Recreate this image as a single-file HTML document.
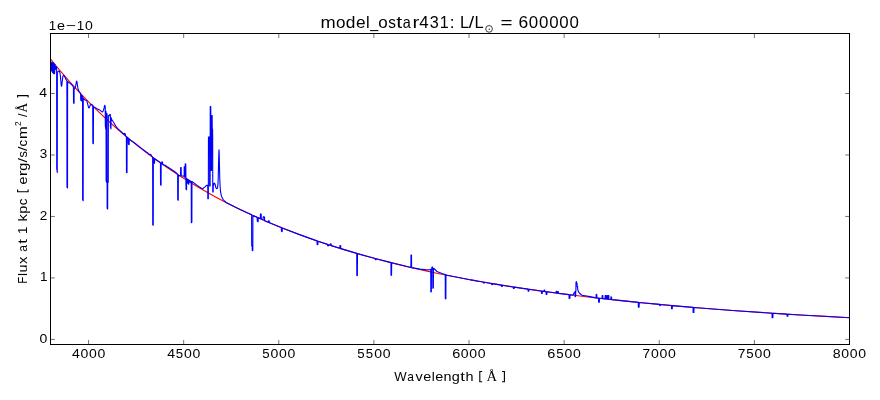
<!DOCTYPE html>
<html><head><meta charset="utf-8"><style>html,body{margin:0;padding:0;background:#fff;overflow:hidden}svg{display:block;will-change:transform}</style></head>
<body>
<svg width="880" height="400" viewBox="0 0 880 400" font-family="'Liberation Sans', sans-serif">
<rect width="880" height="400" fill="#fff"/>
<defs><clipPath id="c"><rect x="50.5" y="33.5" width="799" height="311"/></clipPath></defs>
<g clip-path="url(#c)" fill="none" stroke-linejoin="round" stroke-linecap="butt">
<path d="M50.00 58.40 L56.00 65.76 L60.00 70.53 L64.00 75.20 L70.00 82.02 L74.00 86.45 L78.00 90.79 L84.00 97.12 L92.00 105.27 L100.00 113.07 L108.00 120.57 L114.00 125.99 L122.00 132.96 L130.00 139.65 L138.00 146.09 L146.00 152.26 L154.00 158.20 L162.00 163.91 L166.00 166.68 L172.00 170.73 L180.00 175.96 L184.00 178.50 L190.00 182.22 L198.00 187.01 L208.00 192.75 L216.00 197.15 L226.00 202.43 L236.00 207.46 L246.00 212.27 L256.00 216.87 L266.00 221.26 L276.00 225.46 L286.00 229.47 L296.00 233.32 L308.00 237.71 L318.00 241.20 L330.00 245.20 L340.00 248.37 L352.00 252.01 L364.00 255.47 L376.00 258.77 L388.00 261.90 L400.00 264.88 L412.00 267.73 L426.00 270.88 L438.00 273.44 L452.00 276.28 L466.00 278.97 L480.00 281.50 L494.00 283.89 L508.00 286.15 L522.00 288.28 L538.00 290.59 L554.00 292.75 L570.00 294.80 L588.00 296.96 L606.00 299.00 L624.00 300.92 L644.00 302.94 L662.00 304.65 L682.00 306.45 L700.00 307.96 L720.00 309.54 L740.00 311.02 L762.00 312.54 L782.00 313.84 L804.00 315.18 L826.00 316.42 L850.00 317.70" stroke="#ff0000" stroke-width="1.11"/>
<path d="M50.00 64.00 L50.50 64.25 L50.60 61.85 L51.20 62.20 L51.35 64.77 L51.44 70.80 L51.80 71.08 L51.89 68.37 L51.96 68.43 L52.05 62.52 L52.25 62.68 L52.34 69.53 L52.41 69.59 L52.50 72.42 L52.75 72.61 L52.95 62.69 L53.25 62.91 L53.45 73.39 L53.70 73.57 L53.79 70.44 L53.86 70.50 L53.95 63.53 L54.15 63.67 L54.24 70.11 L54.31 70.16 L54.40 73.43 L54.60 73.57 L54.69 70.68 L54.76 70.73 L54.85 64.43 L55.00 64.54 L55.08 66.91 L55.21 66.68 L55.30 69.50 L55.52 69.12 L55.60 66.50 L56.00 66.57 L56.50 66.93 L56.64 67.28 L56.73 168.74 L57.27 172.46 L57.36 72.23 L57.50 72.34 L58.00 71.53 L58.50 71.13 L59.00 71.02 L59.40 71.34 L59.68 71.78 L60.00 73.04 L60.38 75.97 L61.08 83.86 L61.36 85.94 L61.50 86.30 L61.64 86.16 L61.92 84.52 L62.76 77.05 L63.04 75.90 L63.32 75.44 L63.60 75.39 L64.00 75.62 L65.00 77.30 L66.00 79.62 L66.89 80.65 L66.98 187.19 L67.52 187.81 L67.61 81.49 L68.50 82.45 L70.00 83.20 L72.50 85.50 L73.00 86.57 L73.44 87.24 L73.53 102.83 L74.07 103.36 L74.16 87.95 L74.50 88.24 L74.74 88.20 L75.02 87.97 L75.30 87.39 L75.72 85.66 L76.42 81.57 L76.56 81.18 L76.70 81.10 L77.00 81.99 L77.82 87.78 L78.24 89.82 L78.80 91.11 L80.00 92.60 L80.60 93.50 L80.72 99.94 L81.47 101.06 L81.60 95.00 L82.54 96.69 L82.63 199.82 L83.17 200.78 L83.26 97.98 L84.00 99.30 L85.00 100.00 L86.50 100.51 L86.86 100.92 L88.39 106.86 L88.73 107.80 L88.90 108.00 L89.07 107.99 L89.24 107.79 L90.26 104.99 L90.50 104.59 L90.77 104.35 L91.11 104.29 L91.62 104.48 L92.00 104.71 L92.74 105.38 L92.83 143.05 L93.37 143.75 L93.46 106.31 L94.00 107.00 L95.00 107.50 L98.00 109.40 L99.00 109.63 L99.50 109.86 L102.00 111.88 L102.50 112.04 L103.10 111.03 L103.46 110.20 L104.06 108.05 L104.54 105.86 L104.78 105.27 L104.90 105.30 L105.24 106.61 L105.33 125.99 L105.87 129.69 L105.96 111.37 L106.04 111.74 L106.13 180.93 L106.67 182.25 L106.76 113.57 L107.04 113.94 L107.13 208.37 L107.67 209.03 L107.73 181.67 L108.27 182.31 L108.36 115.52 L108.76 115.85 L109.12 115.81 L109.84 114.52 L110.08 114.32 L110.34 114.66 L110.43 126.52 L110.97 128.84 L111.06 117.62 L111.40 118.79 L111.76 119.57 L114.00 123.00 L116.50 127.20 L118.00 129.00 L120.00 130.60 L124.50 134.78 L124.62 133.36 L125.38 134.14 L125.50 135.82 L126.39 136.67 L126.48 172.27 L127.02 172.72 L127.11 137.27 L128.25 138.21 L128.38 144.09 L129.12 144.71 L129.25 139.04 L131.00 140.47 L135.00 143.20 L141.50 148.32 L148.00 153.27 L149.54 154.59 L149.99 154.74 L150.53 154.38 L150.80 154.40 L151.79 156.44 L152.64 157.21 L152.73 224.80 L153.27 225.20 L153.36 157.73 L153.90 158.13 L154.00 162.78 L154.60 163.22 L154.70 158.71 L160.44 162.81 L160.53 184.81 L161.07 185.19 L161.16 163.32 L161.70 163.70 L161.82 161.74 L162.57 162.26 L162.70 164.40 L163.00 164.60 L165.00 165.19 L176.00 172.57 L177.64 174.47 L177.73 199.77 L178.27 200.23 L178.36 175.07 L179.00 175.60 L180.54 175.73 L180.63 167.48 L181.17 167.52 L181.26 175.78 L183.50 176.15 L184.14 176.57 L184.23 166.71 L184.77 167.29 L184.86 177.35 L185.14 177.59 L185.23 163.83 L185.77 164.17 L186.03 189.33 L186.57 189.67 L186.66 178.57 L187.15 178.89 L187.24 182.83 L187.50 183.00 L187.76 183.17 L187.85 179.34 L188.15 179.53 L188.24 183.83 L188.76 184.17 L188.85 179.98 L188.95 180.04 L189.04 181.83 L189.56 182.17 L189.65 180.49 L190.50 181.16 L191.00 181.82 L191.24 181.70 L191.33 222.64 L191.87 222.36 L191.96 181.32 L197.50 185.60 L201.00 187.93 L202.50 188.75 L205.00 186.90 L206.50 185.40 L207.00 185.14 L207.50 185.86 L207.74 186.00 L207.83 198.75 L208.34 198.75 L208.46 137.00 L208.97 137.00 L209.00 153.34 L209.03 137.00 L209.57 137.00 L209.66 186.01 L210.14 186.01 L210.23 106.50 L210.77 106.50 L210.86 170.34 L210.93 115.50 L211.47 115.50 L211.56 170.34 L211.63 115.50 L212.17 115.50 L212.26 129.00 L212.55 129.00 L212.67 135.00 L212.76 192.00 L213.16 192.00 L213.25 186.00 L213.50 185.50 L214.00 183.00 L215.00 184.00 L216.00 188.00 L216.50 188.56 L217.00 188.78 L217.50 187.52 L217.74 186.39 L218.00 183.85 L218.19 179.63 L218.73 155.89 L219.00 149.75 L219.18 152.61 L219.72 176.64 L220.08 186.18 L220.50 191.09 L221.00 194.06 L221.50 196.20 L223.00 199.30 L224.50 201.00 L226.50 202.68 L239.00 208.93 L251.59 214.87 L251.68 245.88 L252.22 246.12 L252.28 250.48 L252.82 250.72 L252.91 215.47 L253.80 215.87 L253.93 216.13 L254.68 216.47 L254.80 216.33 L257.15 217.38 L257.29 221.32 L258.11 221.68 L258.25 217.87 L260.30 218.78 L260.43 213.84 L261.18 214.16 L261.30 219.22 L263.10 220.01 L263.20 216.87 L263.80 217.13 L263.90 216.87 L264.50 217.13 L264.60 220.66 L268.60 222.37 L268.70 220.67 L269.30 220.93 L269.40 222.71 L281.30 227.61 L281.43 231.35 L282.18 231.65 L282.30 228.01 L299.50 234.62 L317.00 240.86 L317.12 244.37 L317.88 244.63 L318.00 241.20 L327.50 244.38 L327.62 245.68 L328.38 245.92 L328.50 244.71 L330.30 245.29 L330.43 243.78 L331.18 244.02 L331.30 245.62 L339.80 248.31 L339.93 245.48 L340.68 245.72 L340.80 248.62 L356.74 253.40 L356.83 275.52 L357.37 275.68 L357.46 253.61 L375.20 258.55 L375.30 259.67 L375.90 259.83 L376.00 258.77 L390.94 262.64 L391.03 275.18 L391.57 275.32 L391.66 262.83 L410.89 267.47 L410.98 254.94 L411.52 255.06 L411.61 267.64 L420.00 269.15 L426.00 269.88 L430.00 269.60 L430.74 269.40 L430.83 291.97 L431.37 291.83 L431.46 269.20 L431.70 269.13 L431.82 267.20 L432.57 267.00 L432.74 268.85 L432.83 288.17 L433.37 288.03 L433.46 268.65 L434.00 268.50 L437.00 271.50 L442.00 273.50 L445.24 274.58 L445.33 298.64 L445.87 298.86 L445.96 274.87 L447.00 275.29 L470.10 279.72 L470.23 279.93 L470.98 280.07 L471.10 279.91 L476.40 280.86 L476.52 281.18 L477.27 281.32 L477.40 281.04 L483.25 282.07 L483.38 283.04 L484.12 283.16 L484.25 282.24 L491.40 283.45 L491.52 284.54 L492.27 284.66 L492.40 283.62 L501.40 285.10 L501.52 286.44 L502.27 286.56 L502.40 285.26 L513.25 286.96 L513.38 288.44 L514.12 288.56 L514.25 287.12 L528.00 289.16 L528.12 291.20 L528.88 291.30 L529.00 289.31 L541.40 291.06 L541.52 293.45 L542.27 293.55 L542.40 291.20 L544.00 291.41 L544.10 289.96 L544.70 290.04 L544.80 291.52 L546.00 291.69 L546.12 294.35 L546.88 294.45 L547.00 291.82 L556.10 293.03 L556.20 291.21 L556.80 291.29 L556.90 293.13 L557.60 293.22 L557.70 291.46 L558.30 291.54 L558.40 293.33 L569.00 294.67 L569.12 298.45 L569.88 298.55 L570.00 294.80 L573.00 295.17 L574.00 293.00 L575.05 291.56 L575.14 296.80 L575.66 296.40 L575.75 291.00 L575.89 290.89 L575.98 282.11 L576.52 281.69 L576.61 283.65 L577.10 283.27 L577.20 286.68 L577.60 286.37 L577.70 289.50 L578.50 291.91 L579.50 293.27 L582.00 295.26 L590.00 296.59 L596.10 297.89 L596.20 294.37 L596.80 294.43 L596.90 297.98 L598.50 298.16 L598.62 302.21 L599.38 302.29 L599.50 298.28 L602.10 298.57 L602.20 295.57 L602.80 295.63 L602.90 298.66 L605.10 298.90 L605.20 295.57 L605.80 295.63 L605.90 298.99 L606.60 299.06 L606.70 295.47 L607.30 295.53 L607.40 299.15 L608.10 299.23 L608.20 295.57 L608.80 295.63 L608.90 299.32 L610.85 299.53 L610.95 296.87 L611.55 296.93 L611.65 299.61 L638.25 302.37 L638.38 307.21 L639.12 307.29 L639.25 302.47 L659.35 304.41 L659.45 305.57 L660.05 305.63 L660.15 304.48 L671.40 305.51 L671.52 308.72 L672.27 308.78 L672.40 305.60 L693.00 307.38 L693.12 312.47 L693.88 312.53 L694.00 307.46 L732.00 310.44 L772.00 313.20 L772.12 317.73 L772.88 317.77 L773.00 313.27 L787.00 314.15 L787.12 316.23 L787.88 316.27 L788.00 314.21 L818.50 316.01 L850.00 317.70" stroke="#0000ff" stroke-width="1.11"/>
</g>
<path d="M88.55 344.5 V340.1 M88.55 33.5 V37.9 M183.67 344.5 V340.1 M183.67 33.5 V37.9 M278.79 344.5 V340.1 M278.79 33.5 V37.9 M373.90 344.5 V340.1 M373.90 33.5 V37.9 M469.02 344.5 V340.1 M469.02 33.5 V37.9 M564.14 344.5 V340.1 M564.14 33.5 V37.9 M659.26 344.5 V340.1 M659.26 33.5 V37.9 M754.38 344.5 V340.1 M754.38 33.5 V37.9 M849.50 344.5 V340.1 M849.50 33.5 V37.9 M50.5 339.40 H54.8 M849.5 339.40 H845.2 M50.5 277.92 H54.8 M849.5 277.92 H845.2 M50.5 216.45 H54.8 M849.5 216.45 H845.2 M50.5 154.97 H54.8 M849.5 154.97 H845.2 M50.5 93.50 H54.8 M849.5 93.50 H845.2" stroke="#000" stroke-width="0.56" fill="none"/>
<rect x="50.5" y="33.5" width="799" height="311" fill="none" stroke="#000" stroke-width="1"/>
<g fill="#000">
<text transform="translate(75.89 358.20) scale(1.116 1.000)" x="-3.46" font-size="12.60">4</text>
<text transform="translate(84.42 358.20) scale(1.115 1.000)" x="-3.50" font-size="12.60">0</text>
<text transform="translate(92.90 358.20) scale(1.115 1.000)" x="-3.50" font-size="12.60">0</text>
<text transform="translate(101.39 358.20) scale(1.115 1.000)" x="-3.50" font-size="12.60">0</text>
<text transform="translate(171.01 358.20) scale(1.116 1.000)" x="-3.46" font-size="12.60">4</text>
<text transform="translate(179.47 358.20) scale(1.053 1.000)" x="-3.49" font-size="12.60">5</text>
<text transform="translate(188.02 358.20) scale(1.115 1.000)" x="-3.50" font-size="12.60">0</text>
<text transform="translate(196.50 358.20) scale(1.115 1.000)" x="-3.50" font-size="12.60">0</text>
<text transform="translate(265.92 358.20) scale(1.053 1.000)" x="-3.49" font-size="12.60">5</text>
<text transform="translate(274.47 358.20) scale(1.115 1.000)" x="-3.50" font-size="12.60">0</text>
<text transform="translate(282.95 358.20) scale(1.115 1.000)" x="-3.50" font-size="12.60">0</text>
<text transform="translate(291.44 358.20) scale(1.115 1.000)" x="-3.50" font-size="12.60">0</text>
<text transform="translate(361.04 358.20) scale(1.053 1.000)" x="-3.49" font-size="12.60">5</text>
<text transform="translate(369.52 358.20) scale(1.053 1.000)" x="-3.49" font-size="12.60">5</text>
<text transform="translate(378.07 358.20) scale(1.115 1.000)" x="-3.50" font-size="12.60">0</text>
<text transform="translate(386.55 358.20) scale(1.115 1.000)" x="-3.50" font-size="12.60">0</text>
<text transform="translate(456.32 358.20) scale(1.154 1.000)" x="-3.55" font-size="12.60">6</text>
<text transform="translate(464.76 358.20) scale(1.115 1.000)" x="-3.50" font-size="12.60">0</text>
<text transform="translate(473.24 358.20) scale(1.115 1.000)" x="-3.50" font-size="12.60">0</text>
<text transform="translate(481.72 358.20) scale(1.115 1.000)" x="-3.50" font-size="12.60">0</text>
<text transform="translate(551.44 358.20) scale(1.154 1.000)" x="-3.55" font-size="12.60">6</text>
<text transform="translate(559.81 358.20) scale(1.053 1.000)" x="-3.49" font-size="12.60">5</text>
<text transform="translate(568.36 358.20) scale(1.115 1.000)" x="-3.50" font-size="12.60">0</text>
<text transform="translate(576.84 358.20) scale(1.115 1.000)" x="-3.50" font-size="12.60">0</text>
<text transform="translate(646.41 358.20) scale(1.091 1.000)" x="-3.51" font-size="12.60">7</text>
<text transform="translate(654.91 358.20) scale(1.115 1.000)" x="-3.50" font-size="12.60">0</text>
<text transform="translate(663.40 358.20) scale(1.115 1.000)" x="-3.50" font-size="12.60">0</text>
<text transform="translate(671.88 358.20) scale(1.115 1.000)" x="-3.50" font-size="12.60">0</text>
<text transform="translate(741.53 358.20) scale(1.091 1.000)" x="-3.51" font-size="12.60">7</text>
<text transform="translate(749.97 358.20) scale(1.053 1.000)" x="-3.49" font-size="12.60">5</text>
<text transform="translate(758.51 358.20) scale(1.115 1.000)" x="-3.50" font-size="12.60">0</text>
<text transform="translate(767.00 358.20) scale(1.115 1.000)" x="-3.50" font-size="12.60">0</text>
<text transform="translate(836.76 358.20) scale(1.128 1.000)" x="-3.50" font-size="12.60">8</text>
<text transform="translate(845.25 358.20) scale(1.115 1.000)" x="-3.50" font-size="12.60">0</text>
<text transform="translate(853.73 358.20) scale(1.115 1.000)" x="-3.50" font-size="12.60">0</text>
<text transform="translate(862.21 358.20) scale(1.115 1.000)" x="-3.50" font-size="12.60">0</text>
<text transform="translate(43.34 342.70) scale(1.115 1.000)" x="-3.50" font-size="12.60">0</text>
<text transform="translate(43.81 281.22) scale(1.065 1.000)" x="-3.68" font-size="12.60">1</text>
<text transform="translate(43.61 219.75) scale(1.075 1.000)" x="-3.50" font-size="12.60">2</text>
<text transform="translate(43.50 158.27) scale(1.071 1.000)" x="-3.47" font-size="12.60">3</text>
<text transform="translate(43.16 96.80) scale(1.116 1.000)" x="-3.46" font-size="12.60">4</text>
<text transform="translate(328.09 28.00) scale(1.118 1.000)" x="-6.79" font-size="16.30">m</text>
<text transform="translate(340.73 28.00) scale(1.044 1.000)" x="-4.53" font-size="16.30">o</text>
<text transform="translate(350.41 28.00) scale(1.067 1.000)" x="-4.35" font-size="16.30">d</text>
<text transform="translate(360.72 28.00) scale(1.060 1.000)" x="-4.52" font-size="16.30">e</text>
<text transform="translate(367.85 28.00) scale(1.003 1.000)" x="-1.81" font-size="16.30">l</text>
<text transform="translate(374.07 28.00) scale(0.875 1.000)" x="-4.50" font-size="16.30">_</text>
<text transform="translate(382.97 28.00) scale(1.044 1.000)" x="-4.53" font-size="16.30">o</text>
<text transform="translate(392.07 28.00) scale(0.941 1.000)" x="-4.01" font-size="16.30">s</text>
<text transform="translate(399.35 28.00) scale(1.312 1.000)" x="-2.33" font-size="16.30">t</text>
<text transform="translate(407.12 28.00) scale(0.883 1.000)" x="-4.88" font-size="16.30">a</text>
<text transform="translate(416.29 28.00) scale(1.258 1.000)" x="-3.12" font-size="16.30">r</text>
<text transform="translate(423.88 28.00) scale(1.035 1.000)" x="-4.48" font-size="16.30">4</text>
<text transform="translate(434.09 28.00) scale(0.994 1.000)" x="-4.48" font-size="16.30">3</text>
<text transform="translate(444.44 28.00) scale(0.988 1.000)" x="-4.76" font-size="16.30">1</text>
<text transform="translate(452.09 28.00) scale(1.062 1.000)" x="-2.26" font-size="16.30">:</text>
<text transform="translate(465.06 28.00) scale(1.010 1.000)" x="-4.93" font-size="16.30">L</text>
<text transform="translate(471.47 28.00) scale(1.190 1.000)" x="-2.26" font-size="16.30">/</text>
<text transform="translate(479.37 28.00) scale(1.010 1.000)" x="-4.93" font-size="16.30">L</text>
<circle cx="489.05" cy="28.9" r="3.35" fill="none" stroke="#000" stroke-width="0.75"/>
<circle cx="489.3" cy="29.2" r="0.65"/>
<text transform="translate(506.41 28.00) scale(1.265 1.000)" x="-4.76" font-size="16.30">=</text>
<text transform="translate(523.34 28.00) scale(1.071 1.000)" x="-4.59" font-size="16.30">6</text>
<text transform="translate(533.46 28.00) scale(1.035 1.000)" x="-4.53" font-size="16.30">0</text>
<text transform="translate(543.64 28.00) scale(1.035 1.000)" x="-4.53" font-size="16.30">0</text>
<text transform="translate(553.82 28.00) scale(1.035 1.000)" x="-4.53" font-size="16.30">0</text>
<text transform="translate(564.00 28.00) scale(1.035 1.000)" x="-4.53" font-size="16.30">0</text>
<text transform="translate(574.18 28.00) scale(1.035 1.000)" x="-4.53" font-size="16.30">0</text>
<text transform="translate(52.69 30.10) scale(1.065 1.000)" x="-3.68" font-size="12.60">1</text>
<text transform="translate(60.93 30.10) scale(1.143 1.000)" x="-3.49" font-size="12.60">e</text>
<text transform="translate(70.61 30.10) scale(1.350 1.000)" x="-3.68" font-size="12.60">&#8722;</text>
<text transform="translate(80.55 30.10) scale(1.065 1.000)" x="-3.68" font-size="12.60">1</text>
<text transform="translate(88.91 30.10) scale(1.115 1.000)" x="-3.50" font-size="12.60">0</text>
<text transform="translate(400.45 380.85) scale(1.043 1.000)" x="-5.95" font-size="12.60">W</text>
<text transform="translate(410.92 380.85) scale(0.952 1.000)" x="-3.77" font-size="12.60">a</text>
<text transform="translate(419.16 380.85) scale(1.142 1.000)" x="-3.15" font-size="12.60">v</text>
<text transform="translate(427.22 380.85) scale(1.143 1.000)" x="-3.49" font-size="12.60">e</text>
<text transform="translate(433.16 380.85) scale(1.082 1.000)" x="-1.40" font-size="12.60">l</text>
<text transform="translate(439.12 380.85) scale(1.143 1.000)" x="-3.49" font-size="12.60">e</text>
<text transform="translate(447.48 380.85) scale(1.141 1.000)" x="-3.51" font-size="12.60">n</text>
<text transform="translate(455.66 380.85) scale(1.150 1.000)" x="-3.36" font-size="12.60">g</text>
<text transform="translate(462.76 380.85) scale(1.350 1.000)" x="-1.80" font-size="12.60">t</text>
<text transform="translate(469.62 380.85) scale(1.149 1.000)" x="-3.53" font-size="12.60">h</text>
<path d="M482.2 371.5 H479.8 V381.7 H482.2 M502.0 371.5 H504.4 V381.7 H502.0" fill="none" stroke="#000" stroke-width="1.1"/>
<text x="486.6" y="380.75" font-family="&apos;Liberation Serif&apos;, serif" font-size="13.9" textLength="10.6" lengthAdjust="spacingAndGlyphs">&#197;</text>
<g transform="translate(26.9,0) rotate(-90)">
<text transform="translate(-279.91 0.00) scale(0.907 1.000)" x="-4.11" font-size="12.60">F</text>
<text transform="translate(-274.48 0.00) scale(1.082 1.000)" x="-1.40" font-size="12.60">l</text>
<text transform="translate(-268.45 0.00) scale(1.141 1.000)" x="-3.49" font-size="12.60">u</text>
<text transform="translate(-260.27 0.00) scale(1.174 1.000)" x="-3.15" font-size="12.60">x</text>
<text transform="translate(-248.18 0.00) scale(0.952 1.000)" x="-3.77" font-size="12.60">a</text>
<text transform="translate(-241.25 0.00) scale(1.350 1.000)" x="-1.80" font-size="12.60">t</text>
<text transform="translate(-230.06 0.00) scale(1.065 1.000)" x="-3.68" font-size="12.60">1</text>
<text transform="translate(-217.25 0.00) scale(1.183 1.000)" x="-3.58" font-size="12.60">k</text>
<text transform="translate(-209.51 0.00) scale(1.151 1.000)" x="-3.65" font-size="12.60">p</text>
<text transform="translate(-201.89 0.00) scale(1.062 1.000)" x="-3.25" font-size="12.60">c</text>
<path d="M-189.6 -9.3 H-191.7 V1.2 H-189.6" fill="none" stroke="#000" stroke-width="1.1"/>
<text transform="translate(-180.52 0.00) scale(1.143 1.000)" x="-3.49" font-size="12.60">e</text>
<text transform="translate(-173.09 0.00) scale(1.350 1.000)" x="-2.41" font-size="12.60">r</text>
<text transform="translate(-166.96 0.00) scale(1.150 1.000)" x="-3.36" font-size="12.60">g</text>
<text transform="translate(-160.24 0.00) scale(1.283 1.000)" x="-1.75" font-size="12.60">/</text>
<text transform="translate(-154.49 0.00) scale(1.014 1.000)" x="-3.10" font-size="12.60">s</text>
<text transform="translate(-148.80 0.00) scale(1.283 1.000)" x="-1.75" font-size="12.60">/</text>
<text transform="translate(-142.94 0.00) scale(1.062 1.000)" x="-3.25" font-size="12.60">c</text>
<text transform="translate(-132.69 0.00) scale(1.206 1.000)" x="-5.25" font-size="12.60">m</text>
<text x="-125.9" y="-5.9" font-size="8.3">2</text>
<text x="-117.0" y="0" font-size="12.6">/</text>
<text x="-112.5" y="0" font-family="&apos;Liberation Serif&apos;, serif" font-size="13.9" textLength="9.6" lengthAdjust="spacingAndGlyphs">&#197;</text>
<path d="M-97.6 -9.3 H-95.6 V1.2 H-97.6" fill="none" stroke="#000" stroke-width="1.1"/>
</g>
</g>
</svg>
</body></html>
